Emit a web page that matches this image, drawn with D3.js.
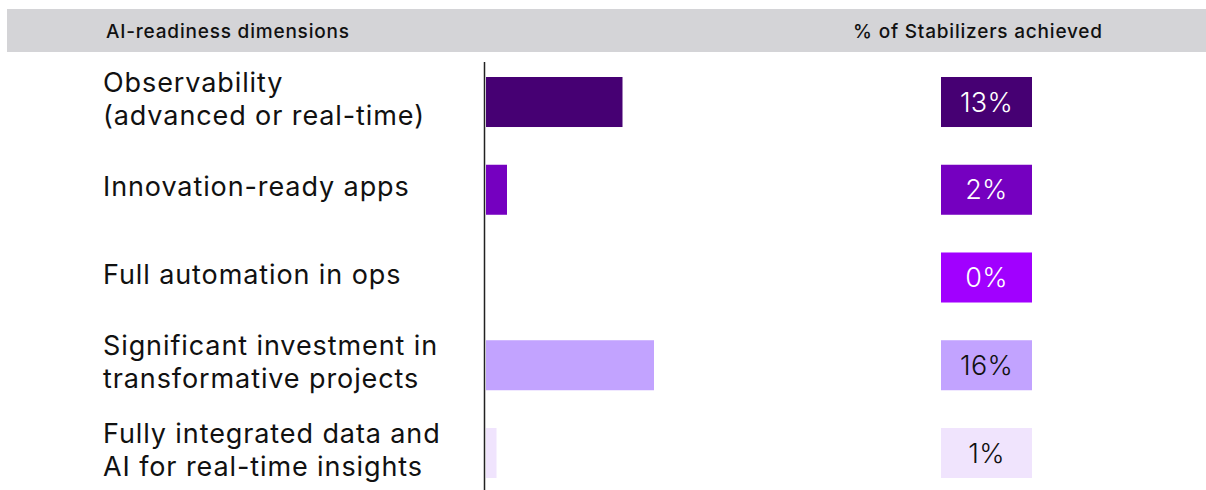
<!DOCTYPE html>
<html>
<head>
<meta charset="utf-8">
<script src="https://cdn.jsdelivr.net/npm/d3@7"></script>
<style>
  body { margin: 0; background: #fff; }
  svg { display: block; font-family: "Inter", "Roboto", sans-serif; }
</style>
</head>
<body>
<div id="container"></div>
<script>
const WIDTH = 1206,
      HEIGHT = 490;

// data
const dimensions = [
    ["Observability", "(advanced or real-time)"],
    ["Innovation-ready apps"],
    ["Full automation in ops"],
    ["Significant investment in", "transformative projects"],
    ["Fully integrated data and", "AI for real-time insights"]
];
const values = [13, 2, 0, 16, 1];
const colors = ["#460073", "#7500c0", "#a100ff", "#c2a3ff", "#f0e4fd"];
const textColors = ["#fff", "#fff", "#fff", "#111", "#111"];
const headers = ["AI-readiness dimensions", "% of Stabilizers achieved"];

const keys = dimensions.map((d) => d.join(" "));

const svg = d3.select('#container').append('svg')
    .attr("width", WIDTH).attr("height", HEIGHT);

// header band
svg.append("rect")
    .attr("x", 7).attr("y", 9)
    .attr("width", WIDTH - 7).attr("height", 43)
    .attr("fill", "#d4d4d7");

svg.append("text")
    .attr("x", 106).attr("y", 37.5)
    .attr("font-size", 19).attr("font-weight", 500)
    .attr("letter-spacing", 0.8)
    .attr("fill", "#111")
    .text(headers[0]);

svg.append("text")
    .attr("x", 978).attr("y", 37.5)
    .attr("text-anchor", "middle")
    .attr("font-size", 19).attr("font-weight", 500)
    .attr("letter-spacing", 0.8)
    .attr("fill", "#111")
    .text(headers[1]);

const yScale = d3.scaleBand()
    .domain(keys)
    .range([77, 478])
    .paddingInner(0.43)
    .paddingOuter(0);

const xScale = d3.scaleLinear()
    .domain([0, 16])
    .range([486, 654]);

// vertical axis line
svg.append("line")
    .attr("x1", 484.5).attr("x2", 484.5)
    .attr("y1", 62).attr("y2", HEIGHT)
    .attr("stroke", "#222")
    .attr("stroke-width", 1.5);

const rows = svg.selectAll("g.row")
    .data(dimensions.map((d, i) => ({
        key: keys[i], lines: d, value: values[i],
        color: colors[i], textColor: textColors[i]
    })))
    .join("g")
    .attr("class", "row");

// bars
rows.append("rect")
    .attr("x", xScale(0))
    .attr("y", (d) => yScale(d.key))
    .attr("width", (d) => xScale(d.value) - xScale(0))
    .attr("height", yScale.bandwidth())
    .attr("fill", (d) => d.color);

// category labels
const lineH = 33;
rows.append("text")
    .attr("font-size", 27)
    .attr("letter-spacing", 0.9)
    .attr("fill", "#111")
    .each(function (d) {
        const cy = yScale(d.key) + yScale.bandwidth() / 2 - 3;
        const n = d.lines.length;
        const t = d3.select(this);
        d.lines.forEach((line, j) => {
            t.append("tspan")
                .attr("x", 103)
                .attr("y", cy + (j - (n - 1) / 2) * lineH)
                .attr("dy", "0.36em")
                .text(line);
        });
    });

// value boxes
const boxX = 941, boxW = 91;
rows.append("rect")
    .attr("x", boxX)
    .attr("y", (d) => yScale(d.key))
    .attr("width", boxW)
    .attr("height", yScale.bandwidth())
    .attr("fill", (d) => d.color);

rows.append("text")
    .attr("x", boxX + boxW / 2)
    .attr("y", (d) => yScale(d.key) + yScale.bandwidth() / 2)
    .attr("dy", "0.36em")
    .attr("text-anchor", "middle")
    .attr("font-size", 27)
    .attr("font-weight", 300)
    .attr("letter-spacing", 0.3)
    .attr("fill", (d) => d.textColor)
    .text((d) => d.value + "%");
</script>
</body>
</html>
